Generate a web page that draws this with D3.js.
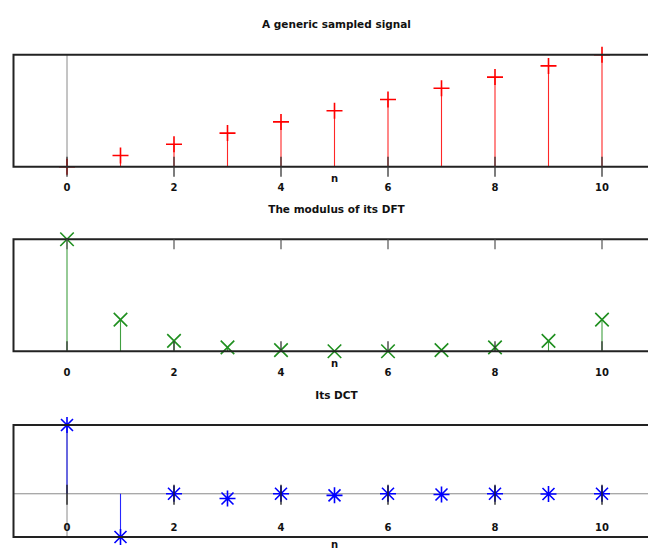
<!DOCTYPE html>
<html>
<head>
<meta charset="utf-8">
<script src="https://cdn.jsdelivr.net/npm/d3@7"></script>
<style>
  html, body { margin: 0; padding: 0; background: #fff; }
  svg { display: block; }
  text { font-family: "DejaVu Sans", sans-serif; font-weight: bold; fill: #111; }
</style>
</head>
<body>
<script>
// ---- data ----
const n = [0, 1, 2, 3, 4, 5, 6, 7, 8, 9, 10];
const signal = [0, 1, 2, 3, 4, 5, 6, 7, 8, 9, 10];
const dftModulus = [55, 19.524, 10.174, 7.278, 6.047, 5.557, 5.557, 6.047, 7.278, 10.174, 19.524];
const dctValues = [16.583, -10.42, 0, -1.124, 0, -0.376, 0, -0.163, 0, -0.065, 0];
const tickValues = [0, 2, 4, 6, 8, 10];
const titles = ["A generic sampled signal", "The modulus of its DFT", "Its DCT"];
const xLabel = "n";

const W = 648, H = 549;
const svg = d3.select("body").append("svg").attr("width", W).attr("height", H);

const x = d3.scaleLinear().domain([-1, 11]).range([13.5, 655.5]);

const panels = [
  { title: titles[0], data: signal, top: 54.7, yDomain: [0, 10], color: "#ff0000", marker: "plus", ms: 8,
    titleY: 28, labelY: 191, nY: 182, axisMode: "bottom" },
  { title: titles[1], data: dftModulus, top: 239.3, yDomain: [d3.min(dftModulus), d3.max(dftModulus)], color: "#1f8f1f", marker: "cross", ms: 9,
    titleY: 212.5, labelY: 376, nY: 367, axisMode: "outside" },
  { title: titles[2], data: dctValues, top: 425, yDomain: [d3.min(dctValues), d3.max(dctValues)], color: "#0000ff", marker: "star", ms: 8,
    titleY: 398.5, labelY: 531, nY: 548, axisMode: "origin" }
];
const PH = 112;

function markerPath(kind, s) {
  const d = s * 0.75;
  if (kind === "plus") return `M${-s},0L${s},0M0,${-s}L0,${s}`;
  if (kind === "cross") return `M${-d},${-d}L${d},${d}M${-d},${d}L${d},${-d}`;
  return `M${-s},0L${s},0M0,${-s}L0,${s}M${-d},${-d}L${d},${d}M${-d},${d}L${d},${-d}`;
}

panels.forEach(p => {
  const y = d3.scaleLinear().domain(p.yDomain).range([p.top + PH, p.top]);
  const g = svg.append("g");
  const bottom = p.top + PH;
  const clipId = "clip" + Math.round(p.top);
  svg.append("clipPath").attr("id", clipId)
    .append("rect").attr("x", x(-1)).attr("y", p.top).attr("width", x(11) - x(-1)).attr("height", PH);

  // title
  g.append("text").attr("x", x(5) + 2).attr("y", p.titleY).attr("text-anchor", "middle")
    .style("font-size", "10.5px").text(p.title);

  // gray axes at origin
  if (p.axisMode !== "outside") {
    g.append("line").attr("x1", x(0)).attr("x2", x(0)).attr("y1", p.top).attr("y2", bottom)
      .attr("stroke", "#8a8a8a").attr("stroke-width", 1);
  }
  if (p.axisMode === "origin") {
    g.append("line").attr("x1", x(-1)).attr("x2", x(11)).attr("y1", y(0)).attr("y2", y(0))
      .attr("stroke", "#8a8a8a").attr("stroke-width", 1);
  }

  // stems
  const y0 = p.axisMode === "outside" ? bottom : y(0);
  g.append("g").attr("clip-path", `url(#${clipId})`).selectAll("line.stem").data(n).join("line")
    .attr("x1", d => x(d)).attr("x2", d => x(d))
    .attr("y1", y0).attr("y2", (d, i) => y(p.data[i]))
    .attr("stroke", p.color).attr("stroke-width", 1.1).attr("opacity", 0.85);

  // markers
  g.append("g").selectAll("path.mk").data(n).join("path")
    .attr("transform", (d, i) => `translate(${x(d)},${y(p.data[i])})`)
    .attr("d", markerPath(p.marker, p.ms))
    .attr("fill", "none").attr("stroke", p.color).attr("stroke-width", 1.6);

  // frame (right side runs off the page)
  g.append("path")
    .attr("d", `M${x(11)},${p.top}L${x(-1)},${p.top}L${x(-1)},${bottom}L${x(11)},${bottom}`)
    .attr("fill", "none").attr("stroke", "#222").attr("stroke-width", 2);

  // ticks
  const tk = g.append("g");
  if (p.axisMode === "bottom") {
    tk.selectAll("line").data(tickValues).join("line")
      .attr("x1", d => x(d)).attr("x2", d => x(d))
      .attr("y1", bottom - 10).attr("y2", bottom + 10)
      .attr("stroke", "#333").attr("stroke-width", 1.5).attr("opacity", 0.85);
  } else if (p.axisMode === "outside") {
    tk.selectAll("line.t").data(tickValues).join("line")
      .attr("x1", d => x(d)).attr("x2", d => x(d))
      .attr("y1", p.top).attr("y2", p.top + 10)
      .attr("stroke", "#555").attr("stroke-width", 1.5).attr("opacity", 0.8);
    tk.selectAll("line.b").data(tickValues).join("line")
      .attr("x1", d => x(d)).attr("x2", d => x(d))
      .attr("y1", bottom - 10).attr("y2", bottom)
      .attr("stroke", "#333").attr("stroke-width", 1.5).attr("opacity", 0.85);
  } else {
    tk.selectAll("line").data(tickValues).join("line")
      .attr("x1", d => x(d)).attr("x2", d => x(d))
      .attr("y1", y(0) - 9).attr("y2", y(0) + 11)
      .attr("stroke", "#222").attr("stroke-width", 1.5).attr("opacity", 0.9);
  }

  // tick labels
  g.append("g").selectAll("text").data(tickValues).join("text")
    .attr("x", d => x(d)).attr("y", p.labelY).attr("text-anchor", "middle")
    .style("font-size", "10px").text(d => String(d));

  // x label
  g.append("text").attr("x", x(5)).attr("y", p.nY).attr("text-anchor", "middle")
    .style("font-size", "10px").text(xLabel);
});
</script>
</body>
</html>
